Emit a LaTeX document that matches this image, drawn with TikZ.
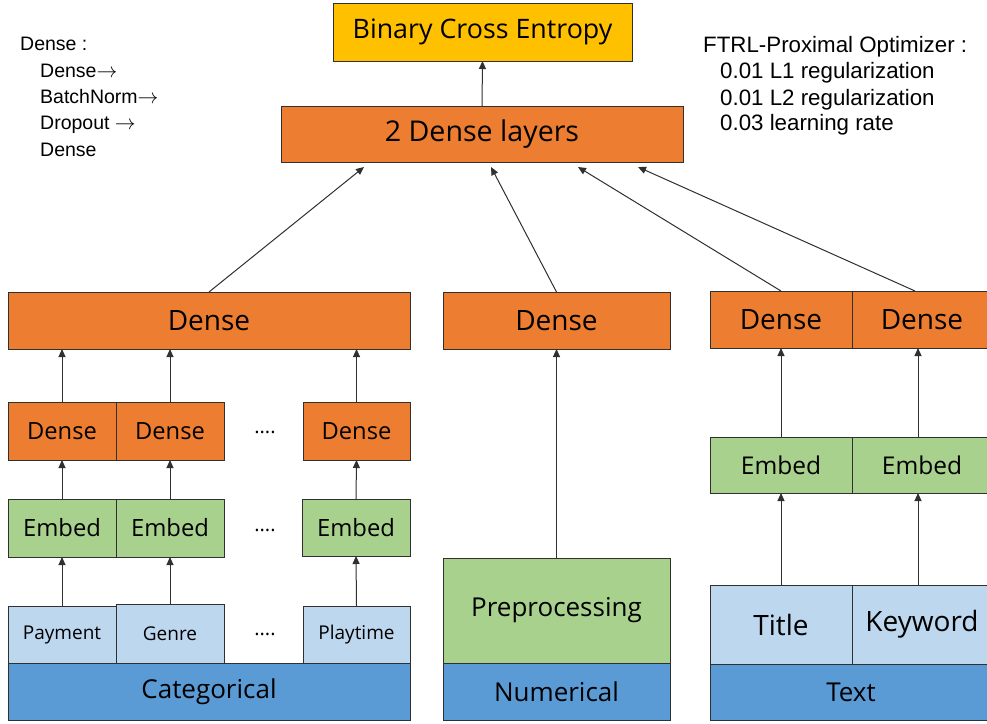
\documentclass[tikz,border=0pt]{standalone}
\usepackage{fontspec}
\setmainfont{Open Sans}
\newfontfamily\notefont{Liberation Sans}
\newcommand{\rarr}{\ensuremath{\rightarrow}}
\usetikzlibrary{arrows.meta}
\definecolor{cOrange}{HTML}{ED7D31}
\definecolor{cYellow}{HTML}{FFC000}
\definecolor{cGreen}{HTML}{A9D18E}
\definecolor{cLight}{HTML}{BDD7EE}
\definecolor{cBlue}{HTML}{5B9BD5}
\definecolor{cLine}{HTML}{303030}
\tikzset{
  box/.style={draw=cLine, line width=1pt, inner sep=0pt, outer sep=0pt, font=\fontsize{26}{30}\selectfont},
  orangebox/.style={box, fill=cOrange},
  greenbox/.style={box, fill=cGreen},
  lightbox/.style={box, fill=cLight},
  bluebox/.style={box, fill=cBlue},
  arr/.style={draw=cLine, line width=1pt, -{Triangle[length=8pt,width=7pt]}},
  note/.style={anchor=base west, inner sep=0pt, font=\notefont\fontsize{19.5}{24}\selectfont},
  bignote/.style={anchor=base west, inner sep=0pt, font=\notefont\fontsize{22.3}{26}\selectfont},
  dots/.style={inner sep=0pt, font=\fontsize{20}{24}\selectfont}
}
\begin{document}
\begin{tikzpicture}[x=1pt, y=-1pt]
\clip (0,0) rectangle (987,723);
\fill[white] (0,0) rectangle (987,723);

% top
\node[box, fill=cYellow, minimum width=299pt, minimum height=58pt, font=\fontsize{26.8}{30}\selectfont] (bce) at (482.5,32) {Binary Cross Entropy};
\node[orangebox, minimum width=402pt, minimum height=56pt, font=\fontsize{28.6}{32}\selectfont] (dl) at (482,134) {2 Dense layers};

% notes
\node[note] (n0) at (20,50) {Dense :};
\node[note] (n1) at (40,77) {Dense\rarr};
\node[note] (n2) at (40,103) {BatchNorm\rarr};
\node[note] (n3) at (40,129) {Dropout \rarr};
\node[note] (n4) at (40,156) {Dense};
\node[bignote] (m0) at (703,52) {FTRL-Proximal Optimizer :};
\node[bignote] (m1) at (720,78) {0.01 L1 regularization};
\node[bignote] (m2) at (720,105) {0.01 L2 regularization};
\node[bignote] (m3) at (720,130) {0.03 learning rate};

% categorical branch
\node[orangebox, minimum width=402pt, minimum height=57pt, font=\fontsize{28}{32}\selectfont] (cdense) at (209,320.5) {Dense};
\node[orangebox, minimum width=108pt, minimum height=58pt, font=\fontsize{23.7}{26}\selectfont] (cd1) at (62,431) {Dense};
\node[orangebox, minimum width=108pt, minimum height=58pt, font=\fontsize{23.7}{26}\selectfont] (cd2) at (170,431) {Dense};
\node[orangebox, minimum width=107pt, minimum height=58pt, font=\fontsize{23.7}{26}\selectfont] (cd3) at (356.5,431) {Dense};
\node[greenbox, minimum width=108pt, minimum height=58pt, font=\fontsize{23.8}{26}\selectfont] (ce1) at (62,528) {Embed};
\node[greenbox, minimum width=108pt, minimum height=58pt, font=\fontsize{23.8}{26}\selectfont] (ce2) at (170,528) {Embed};
\node[greenbox, minimum width=108pt, minimum height=57pt, font=\fontsize{23.8}{26}\selectfont] (ce3) at (356,527.5) {Embed};
\node[lightbox, minimum width=108pt, minimum height=57pt, font=\fontsize{19}{22}\selectfont] (ci1) at (62,634.5) {Payment};
\node[lightbox, minimum width=108pt, minimum height=59pt, font=\fontsize{19}{22}\selectfont] (ci2) at (170,633.5) {Genre};
\node[lightbox, minimum width=107pt, minimum height=57pt, font=\fontsize{19}{22}\selectfont] (ci3) at (356.5,634.5) {Playtime};
\node[bluebox, minimum width=402pt, minimum height=57pt] (cat) at (209,691.5) {Categorical};
\node[dots] (dt1) at (265,432) {....};
\node[dots] (dt2) at (265,530) {....};
\node[dots] (dt3) at (265,634) {....};

% numerical branch
\node[orangebox, minimum width=227pt, minimum height=57pt, font=\fontsize{28}{32}\selectfont] (ndense) at (556.5,320.5) {Dense};
\node[greenbox, minimum width=227pt, minimum height=105pt] (prep) at (556.5,610.5) {Preprocessing};
\node[bluebox, minimum width=227pt, minimum height=57pt] (num) at (556.5,691.5) {Numerical};

% text branch
\node[orangebox, minimum width=142pt, minimum height=57pt, font=\fontsize{28}{32}\selectfont] (td1) at (781,319.5) {Dense};
\node[orangebox, minimum width=140pt, minimum height=57pt, font=\fontsize{28}{32}\selectfont] (td2) at (922,319.5) {Dense};
\node[greenbox, minimum width=142pt, minimum height=56pt, font=\fontsize{24.5}{28}\selectfont] (te1) at (781,465) {Embed};
\node[greenbox, minimum width=140pt, minimum height=56pt, font=\fontsize{24.5}{28}\selectfont] (te2) at (922,465) {Embed};
\node[lightbox, minimum width=142pt, minimum height=79pt, font=\fontsize{28}{32}\selectfont] (tt) at (781,624.5) {Title};
\node[lightbox, minimum width=140pt, minimum height=79pt, font=\fontsize{28}{32}\selectfont] (tk) at (922,624.5) {Keyword};
\node[bluebox, minimum width=282pt, minimum height=56pt] (txt) at (851,692) {Text};

% arrows
\draw[arr] (dl.north) -- (bce.south);
\coordinate (h1) at (364,167);
\coordinate (h2) at (491,167);
\coordinate (h3) at (578,167);
\coordinate (h4) at (638,167);
\draw[arr] (cdense.north) -- (h1);
\draw[arr] (ndense.north) -- (h2);
\draw[arr] (td1.north) -- (h3);
\draw[arr] ([xshift=-7pt]td2.north) -- (h4);

\draw[arr] (ci1.north) -- (ce1.south);
\draw[arr] (ci2.north) -- (ce2.south);
\draw[arr] (ci3.north) -- (ce3.south);
\draw[arr] (ce1.north) -- (cd1.south);
\draw[arr] (ce2.north) -- (cd2.south);
\draw[arr] (ce3.north) -- (cd3.south);
\draw[arr] (cd1.north) -- (cd1.north |- cdense.south);
\draw[arr] (cd2.north) -- (cd2.north |- cdense.south);
\draw[arr] (cd3.north) -- (cd3.north |- cdense.south);

\draw[arr] (prep.north) -- (ndense.south);

\draw[arr] (tt.north) -- (te1.south);
\draw[arr] ([xshift=-4pt]tk.north) -- ([xshift=-4pt]te2.south);
\draw[arr] (te1.north) -- (td1.south);
\draw[arr] ([xshift=-4pt]te2.north) -- ([xshift=-4pt]td2.south);
\end{tikzpicture}
\end{document}
